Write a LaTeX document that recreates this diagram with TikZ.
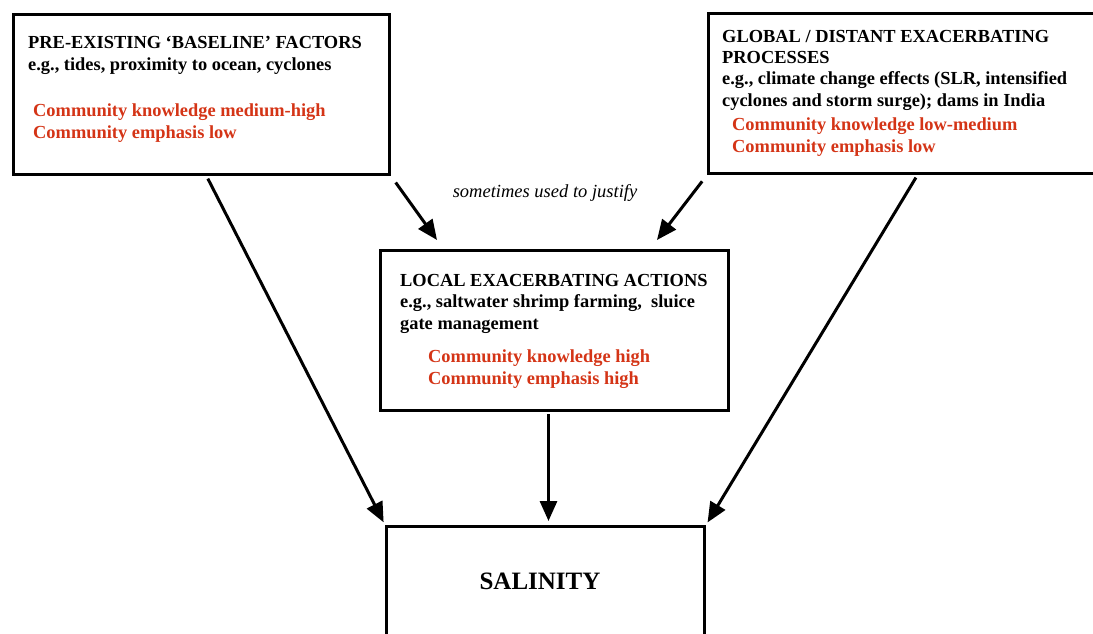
\documentclass[tikz,border=0pt]{standalone}
\usepackage{fontspec}
\setmainfont{Liberation Serif}
\usetikzlibrary{arrows.meta,positioning,calc}
\definecolor{rust}{RGB}{212,52,22}
\definecolor{ink}{RGB}{0,0,0}
\tikzset{
  >={Triangle[length=20pt,width=17pt]},
  frame/.style={draw=ink,line width=3pt,anchor=north west,inner sep=0pt},
  % anchored on the baseline of the last line
  head/.style={anchor=base west,inner sep=0pt,align=left,text=ink,
    font=\fontsize{18.4}{21.3}\selectfont\bfseries},
  rating/.style={head,text=rust},
  flow/.style={->,line width=3pt,draw=ink},
}

\begin{document}
\begin{tikzpicture}[x=1pt,y=-1pt]
  \useasboundingbox (0,0) rectangle (1093,633);
  % boxes
  \node[frame,minimum width=376pt,minimum height=160pt] (base) at (12,13) {};
  \node[frame,minimum width=418pt,minimum height=160pt] (glob) at (707,12) {};
  \node[frame,minimum width=348pt,minimum height=160pt] (local) at (379,249) {};
  \node[frame,minimum width=318pt,minimum height=140pt] (sal) at (385,525) {};
  % texts
  \node[head] (baseT) at (28,70) {PRE-EXISTING ‘BASELINE’ FACTORS\\e.g., tides, proximity to ocean, cyclones};
  \node[rating] (baseR) at (33,138) {Community knowledge medium-high\\Community emphasis low};
  \node[head] (globT) at (722,106) {GLOBAL / DISTANT EXACERBATING\\PROCESSES\\e.g., climate change effects (SLR, intensified\\cyclones and storm surge); dams in India};
  \node[rating] (globR) at (732,152) {Community knowledge low-medium\\Community emphasis low};
  \node[head] (localT) at (400,329) {LOCAL EXACERBATING ACTIONS\\e.g., saltwater shrimp farming,\ \ sluice\\gate management};
  \node[rating] (localR) at (428,384) {Community knowledge high\\Community emphasis high};
  \node[font=\fontsize{25}{30}\selectfont\bfseries,inner sep=0pt,anchor=base] (salT) at (540,589) {SALINITY};
  \node[font=\fontsize{18.5}{21}\selectfont\itshape,inner sep=0pt,anchor=base] (just) at (545,197) {sometimes used to justify};
  % arrows
  \draw[flow,shorten <=3pt,shorten >=3pt] ([xshift=5pt]base.south) -- (sal.north west);
  \draw[flow,shorten <=3pt,shorten >=3pt] (glob.south) -- (sal.north east);
  \draw[flow,shorten <=8pt] (base.south east) -- ([xshift=58pt,yshift=9pt]local.north west);
  \draw[flow,shorten <=8pt] (glob.south west) -- ([xshift=-73pt,yshift=9pt]local.north east);
  \draw[flow,shorten <=2pt,shorten >=4pt] ([xshift=-6pt]local.south) -- ([xshift=-6pt]local.south |- sal.north);
\end{tikzpicture}
\end{document}
